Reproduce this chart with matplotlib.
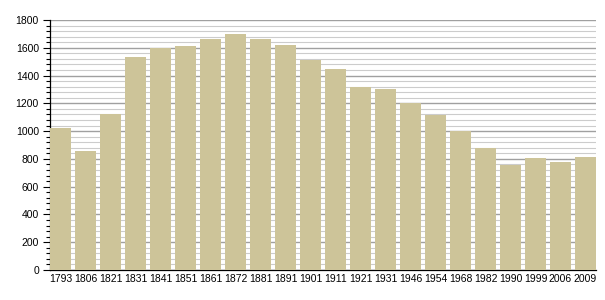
import matplotlib
matplotlib.use('Agg')
import matplotlib.pyplot as plt
from matplotlib.ticker import MultipleLocator

# Données de population
years = ['1793', '1806', '1821', '1831', '1841', '1851', '1861', '1872', '1881', '1891',
         '1901', '1911', '1921', '1931', '1946', '1954', '1968', '1982', '1990', '1999',
         '2006', '2009']
population = [1020, 860, 1125, 1535, 1600, 1615, 1660, 1700, 1665, 1620,
              1515, 1450, 1320, 1300, 1205, 1115, 1000, 877, 757, 809,
              780, 816]

plt.rcParams['font.family'] = ['Liberation Sans', 'DejaVu Sans']

fig = plt.figure(figsize=(6.05, 3.0), dpi=100)
ax = fig.add_axes([50 / 605, 30 / 300, 546 / 605, 250 / 300])

x = list(range(len(years)))
ax.bar(x, population, width=0.84, color='#cdc499', zorder=3)

ax.set_xlim(-0.42, len(years) - 0.58)
ax.set_ylim(0, 1800)
ax.set_xticks(x)
ax.set_xticklabels(years, fontsize=7.5)

# Grille principale (200) et secondaire (40)
ax.yaxis.set_major_locator(MultipleLocator(200))
ax.yaxis.set_minor_locator(MultipleLocator(40))
ax.grid(axis='y', which='major', color='#a0a0a0', linewidth=1.0, zorder=0)
ax.grid(axis='y', which='minor', color='#cccccc', linewidth=0.8, zorder=0)
ax.tick_params(axis='y', which='major', length=5, width=0.8, labelsize=7.5, pad=3)
ax.tick_params(axis='y', which='minor', length=3, width=0.8)
ax.tick_params(axis='x', length=0, pad=3)

for side in ['top', 'right']:
    ax.spines[side].set_visible(False)
ax.spines['left'].set_linewidth(0.9)
ax.spines['bottom'].set_linewidth(0.9)

fig.savefig('out.png', dpi=100)
